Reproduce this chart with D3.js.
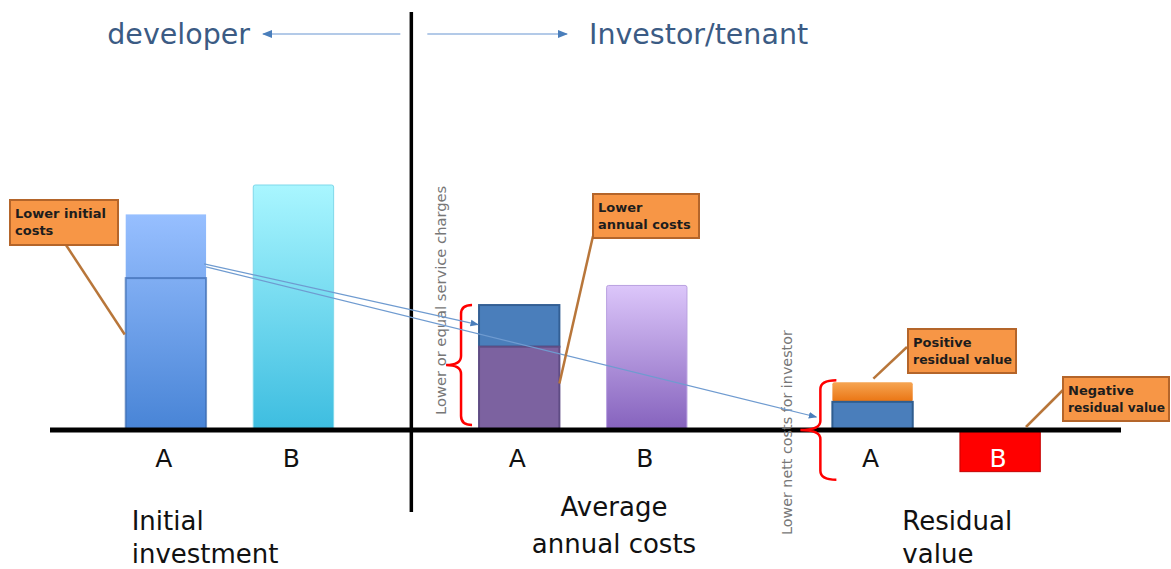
<!DOCTYPE html>
<html>
<head>
<meta charset="utf-8">
<script src="https://cdn.jsdelivr.net/npm/d3@7"></script>
<style>
  body { margin: 0; background: #fff; }
  svg { display: block; font-family: "DejaVu Sans", "Open Sans", sans-serif; }
</style>
</head>
<body>
<svg id="chart" width="1171" height="569"></svg>
<script>
// groups and the two alternatives in each
var groups = ["Initial investment", "Average annual costs", "Residual value"];
var groupLines = [["Initial", "investment"], ["Average", "annual costs"], ["Residual", "value"]];
var options = ["A", "B"];

// bar values (arbitrary units)
var initialValues = [88, 100];          // A, B
var initialInner = 62;                  // darker lower part of A
var annualBase = [34, 59];              // purple part A, B total
var annualExtraA = 17;                  // blue part stacked on A
var residualBase = [11.5, -17];         // blue A, red B
var residualExtraA = 8;                 // orange part stacked on A

var headers = ["developer", "Investor/tenant"];
var sideNotes = ["Lower or equal service charges", "Lower nett costs for investor"];
var callouts = [["Lower initial", "costs"], ["Lower", "annual costs"], ["Positive", "residual value"], ["Negative", "residual value"]];

var svg = d3.select("#chart");

var defs = svg.append("defs");
function grad(id, top, bottom) {
  var g = defs.append("linearGradient").attr("id", id).attr("x1", 0).attr("y1", 0).attr("x2", 0).attr("y2", 1);
  g.append("stop").attr("offset", "0%").attr("stop-color", top);
  g.append("stop").attr("offset", "100%").attr("stop-color", bottom);
}
grad("gInitA", "#97bfff", "#4884d6");
grad("gInitB", "#a9f6ff", "#3dbde0");
grad("gAnnB", "#dcc6fa", "#8562bd");
grad("gOrange", "#f6a553", "#ea7412");

function marker(id, color) {
  defs.append("marker").attr("id", id)
    .attr("viewBox", "0 0 10 10").attr("refX", 9).attr("refY", 5)
    .attr("markerWidth", 7).attr("markerHeight", 7).attr("orient", "auto")
    .append("path").attr("d", "M0,1 L10,5 L0,9 Z").attr("fill", color);
}
marker("arr", "#4a7ebb");

// scales
var y = d3.scaleLinear().domain([0, 100]).range([430, 185]);
var xGroup = d3.scaleBand().domain(groups).range([53, 1113]).padding(0);
var xOpt = d3.scaleBand().domain(options).range([0, xGroup.bandwidth()])
  .paddingInner(0.37).paddingOuter(0.57);
function bx(g, o) { return xGroup(groups[g]) + xOpt(o); }
var bw = xOpt.bandwidth();

var divX = xGroup(groups[1]) + 5;

// ---- bars ----
var bars = svg.append("g");

// initial investment
bars.append("rect").attr("x", bx(0, "A")).attr("y", y(initialValues[0]))
  .attr("width", bw).attr("height", y(0) - y(initialValues[0]))
  .attr("fill", "url(#gInitA)");
bars.append("rect").attr("x", bx(0, "A")).attr("y", y(initialInner))
  .attr("width", bw).attr("height", y(0) - y(initialInner))
  .attr("fill", "none").attr("stroke", "#3c6bb0").attr("stroke-width", 2).attr("opacity", 0.7);
bars.append("rect").attr("x", bx(0, "B")).attr("y", y(initialValues[1]))
  .attr("width", bw).attr("height", y(0) - y(initialValues[1]))
  .attr("fill", "url(#gInitB)").attr("stroke", "#7fd8ea").attr("stroke-width", 1).attr("rx", 2);

// average annual costs
bars.append("rect").attr("x", bx(1, "A")).attr("y", y(annualBase[0] + annualExtraA))
  .attr("width", bw).attr("height", y(annualBase[0]) - y(annualBase[0] + annualExtraA))
  .attr("fill", "#4a7ebb").attr("stroke", "#335f94").attr("stroke-width", 2);
bars.append("rect").attr("x", bx(1, "A")).attr("y", y(annualBase[0]))
  .attr("width", bw).attr("height", y(0) - y(annualBase[0]))
  .attr("fill", "#7c62a0").attr("stroke", "#5f4c84").attr("stroke-width", 2);
bars.append("rect").attr("x", bx(1, "B")).attr("y", y(annualBase[1]))
  .attr("width", bw).attr("height", y(0) - y(annualBase[1]))
  .attr("fill", "url(#gAnnB)").attr("stroke", "#b9a0e0").attr("stroke-width", 1).attr("rx", 2);

// residual value
bars.append("rect").attr("x", bx(2, "A")).attr("y", y(residualBase[0] + residualExtraA))
  .attr("width", bw).attr("height", y(residualBase[0]) - y(residualBase[0] + residualExtraA))
  .attr("fill", "url(#gOrange)").attr("rx", 2);
bars.append("rect").attr("x", bx(2, "A")).attr("y", y(residualBase[0]))
  .attr("width", bw).attr("height", y(0) - y(residualBase[0]))
  .attr("fill", "#4a7ebb").attr("stroke", "#2f5d8f").attr("stroke-width", 2);
bars.append("rect").attr("x", bx(2, "B")).attr("y", y(0))
  .attr("width", bw).attr("height", y(residualBase[1]) - y(0))
  .attr("fill", "#ff0000").attr("stroke", "#c40000").attr("stroke-width", 1);

// axis line and divider
svg.append("line").attr("x1", 50).attr("x2", 1121).attr("y1", y(0)).attr("y2", y(0))
  .attr("stroke", "#000").attr("stroke-width", 5);
svg.append("line").attr("x1", divX).attr("x2", divX).attr("y1", 12).attr("y2", 512)
  .attr("stroke", "#000").attr("stroke-width", 3.5);

// category labels
groups.forEach(function (g, gi) {
  options.forEach(function (o) {
    var white = gi === 2 && o === "B";
    svg.append("text").attr("x", bx(gi, o) + bw / 2 - 2).attr("y", 467)
      .attr("text-anchor", "middle").attr("font-size", 25)
      .attr("fill", white ? "#fff" : "#111").text(o);
  });
});

// group labels
var gc = function (gi) { return xGroup(groups[gi]) + xGroup.bandwidth() / 2; };
var glAnchor = [["start", bx(0, "A") + 6], ["middle", gc(1) + 31], ["start", bx(2, "A") + 70]];
var glY = [[530, 563], [516, 553], [530, 563]];
groupLines.forEach(function (lines, gi) {
  lines.forEach(function (t, li) {
    svg.append("text").attr("x", glAnchor[gi][1]).attr("y", glY[gi][li])
      .attr("text-anchor", glAnchor[gi][0]).attr("font-size", 26)
      .attr("fill", "#111").text(t);
  });
});

// headers with arrows
svg.append("text").attr("x", 250).attr("y", 44).attr("text-anchor", "end")
  .attr("font-size", 28.5).attr("fill", "#3b5b84").text(headers[0]);
svg.append("text").attr("x", 589).attr("y", 44).attr("text-anchor", "start")
  .attr("font-size", 28.5).attr("fill", "#3b5b84").text(headers[1]);
svg.append("line").attr("x1", divX - 11).attr("x2", 263).attr("y1", 34).attr("y2", 34)
  .attr("stroke", "#9ab8e0").attr("stroke-width", 1.5).attr("marker-end", "url(#arr)");
svg.append("line").attr("x1", divX + 16).attr("x2", 567).attr("y1", 34).attr("y2", 34)
  .attr("stroke", "#9ab8e0").attr("stroke-width", 1.5).attr("marker-end", "url(#arr)");

// rotated side notes
svg.append("text").attr("transform", "translate(440," + 415 + ") rotate(-90)")
  .attr("font-size", 14.7).attr("fill", "#777").attr("dominant-baseline", "central")
  .text(sideNotes[0]);
svg.append("text").attr("transform", "translate(787," + 535 + ") rotate(-90)")
  .attr("font-size", 14.3).attr("fill", "#777").attr("dominant-baseline", "central")
  .text(sideNotes[1]);

// red braces
function brace(x, xEnd, tip, top, bot, mid) {
  var r = 9;
  return "M" + xEnd + "," + top + " Q" + x + "," + top + " " + x + "," + (top + r) +
    " L" + x + "," + (mid - r) + " Q" + x + "," + mid + " " + tip + "," + mid +
    " Q" + x + "," + mid + " " + x + "," + (mid + r) +
    " L" + x + "," + (bot - r) + " Q" + x + "," + bot + " " + xEnd + "," + bot;
}
var a0 = bx(1, "A"), aTop = y(annualBase[0] + annualExtraA), aBot = y(0) - 5;
svg.append("path").attr("d", brace(a0 - 18, a0 - 7, a0 - 33, aTop, aBot, (aTop + aBot) / 2))
  .attr("fill", "none").attr("stroke", "#ff0000").attr("stroke-width", 2.5);
var r0 = bx(2, "A"), rTop = y(residualBase[0] + residualExtraA) - 2;
var rBot = y(0) + (y(0) - rTop);
svg.append("path").attr("d", brace(r0 - 12, r0 + 4, r0 - 32, rTop, rBot, y(0)))
  .attr("fill", "none").attr("stroke", "#ff0000").attr("stroke-width", 2.5);

// blue connecting arrows
var sx = bx(0, "A") + bw, sy = y(67);
svg.append("line").attr("x1", sx - 2).attr("y1", sy - 2).attr("x2", a0 - 1).attr("y2", y(43))
  .attr("stroke", "#6f9bd0").attr("stroke-width", 1.2).attr("marker-end", "url(#arr)");
svg.append("line").attr("x1", sx).attr("y1", sy + 1).attr("x2", r0 - 16).attr("y2", y(5.3))
  .attr("stroke", "#6f9bd0").attr("stroke-width", 1.2).attr("marker-end", "url(#arr)");

// callout boxes with leader lines
function callout(box, lines, from, to) {
  svg.append("line").attr("x1", from[0]).attr("y1", from[1]).attr("x2", to[0]).attr("y2", to[1])
    .attr("stroke", "#b8763a").attr("stroke-width", 2.5);
  svg.append("rect").attr("x", box[0]).attr("y", box[1]).attr("width", box[2]).attr("height", box[3])
    .attr("fill", "#f79646").attr("stroke", "#b4652a").attr("stroke-width", 2);
  lines.forEach(function (t, i) {
    var tx = svg.append("text").attr("x", box[0] + 5).attr("y", box[1] + 18 + i * 17)
      .attr("font-size", 13).attr("font-weight", "bold").attr("fill", "#1d1d1d").text(t);
    // squeeze a line that would run past the box edge
    var maxW = box[2] - 9;
    if (tx.node().getComputedTextLength() > maxW) {
      tx.attr("textLength", maxW).attr("lengthAdjust", "spacingAndGlyphs");
    }
  });
}
callout([10, 200, 108, 45], callouts[0], [66, 245], [bx(0, "A") - 1, y(39)]);
callout([593, 194, 106, 44], callouts[1], [593, 236], [bx(1, "A") + bw, y(19)]);
callout([908, 329, 108, 44], callouts[2], [907, 347], [r0 + 41, y(21)]);
callout([1063, 377, 106, 44], callouts[3], [1063, 390], [bx(2, "B") + 66, y(0) - 3]);
</script>
</body>
</html>
